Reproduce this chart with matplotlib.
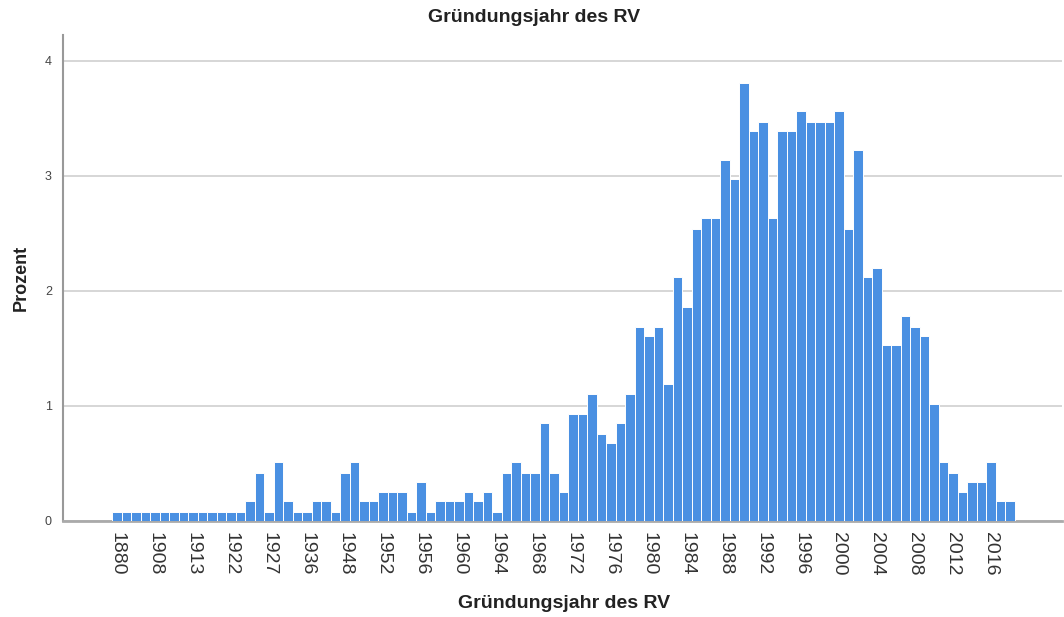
import matplotlib.pyplot as plt

plt.rcParams['font.family'] = ['Liberation Sans', 'DejaVu Sans']

# years present in the data (only every 4th is labelled in the chart)
years = [1880, 1890, 1898, 1905, 1908, 1910, 1911, 1912, 1913, 1919, 1920, 1921,
         1922, 1923, 1924, 1925, 1927, 1929, 1930, 1932, 1936, 1938, 1945, 1946] + \
        list(range(1948, 2019))

# percent per year
prozent = [0.08, 0.08, 0.08, 0.08, 0.08, 0.08, 0.08, 0.08, 0.08, 0.08, 0.08, 0.08,
           0.08, 0.08, 0.17, 0.42, 0.08, 0.51, 0.17, 0.08, 0.08, 0.17, 0.17, 0.08,
           # 1948 - 1959
           0.42, 0.51, 0.17, 0.17, 0.25, 0.25, 0.25, 0.08, 0.34, 0.08, 0.17, 0.17,
           # 1960 - 1971
           0.17, 0.25, 0.17, 0.25, 0.08, 0.42, 0.51, 0.42, 0.42, 0.85, 0.42, 0.25,
           # 1972 - 1983
           0.93, 0.93, 1.10, 0.76, 0.68, 0.85, 1.10, 1.69, 1.61, 1.69, 1.19, 2.12,
           # 1984 - 1995
           1.86, 2.54, 2.63, 2.63, 3.14, 2.97, 3.81, 3.39, 3.47, 2.63, 3.39, 3.39,
           # 1996 - 2007
           3.56, 3.47, 3.47, 3.47, 3.56, 2.54, 3.22, 2.12, 2.20, 1.53, 1.53, 1.78,
           # 2008 - 2018
           1.69, 1.61, 1.02, 0.51, 0.42, 0.25, 0.34, 0.34, 0.51, 0.17, 0.17]

labels = [str(y) for y in years]
x = list(range(len(years)))

fig = plt.figure(figsize=(10.64, 6.17), dpi=100)
ax = fig.add_axes([0.0592, 0.1556, 0.939, 0.787])

ax.bar(x, prozent, width=1.0, color='#4a90e2', edgecolor='white', linewidth=0.7, zorder=3)

ax.set_xlim(-5.7, 99.5)
ax.set_ylim(0, 4.22)
ax.set_yticks([0, 1, 2, 3, 4])
ax.set_yticklabels(['0', '1', '2', '3', '4'], fontsize=9, color='#444444')
ax.set_xticks(x[::4])
ax.set_xticklabels(labels[::4], rotation=-90, fontsize=14, color='#333333')
ax.tick_params(axis='both', length=0)
ax.tick_params(axis='x', pad=8)
ax.tick_params(axis='y', pad=8)

ax.yaxis.grid(True, color='#d3d3d3', linewidth=1.3, zorder=0)
ax.set_axisbelow(True)

for s in ['top', 'right']:
    ax.spines[s].set_visible(False)
ax.spines['left'].set_color('#999999')
ax.spines['left'].set_linewidth(1.5)
ax.spines['bottom'].set_color('#aaaaaa')
ax.spines['bottom'].set_linewidth(2)

fig.text(534 / 1064, 1 - 18 / 617, 'Gründungsjahr des RV', ha='center', va='center',
         fontsize=14, fontweight='bold', color='#222222')
fig.text(564 / 1064, 1 - 604 / 617, 'Gründungsjahr des RV', ha='center', va='center',
         fontsize=14, fontweight='bold', color='#222222')
fig.text(21 / 1064, 1 - 278 / 617, 'Prozent', ha='center', va='center', rotation=90,
         fontsize=13, fontweight='bold', color='#222222')

fig.savefig('out.png', dpi=100, facecolor='white')
